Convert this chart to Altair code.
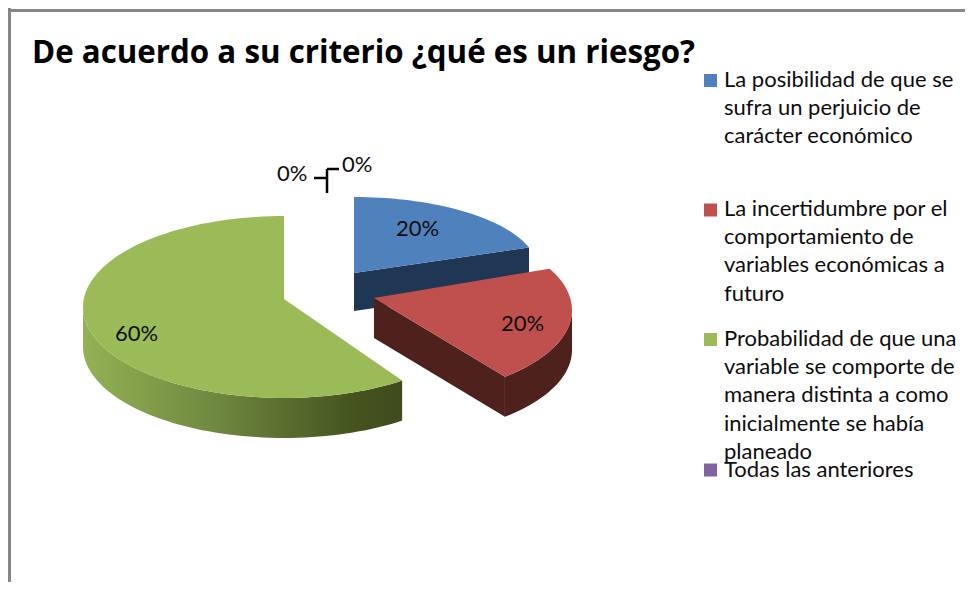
import math
import altair as alt
import pandas as pd

# ---- values
TITLE = "De acuerdo a su criterio ¿qué es un riesgo?"
CATEGORIES = [
    "La posibilidad de que se\nsufra un perjuicio de\ncarácter económico",
    "La incertidumbre por el\ncomportamiento de\nvariables económicas a\nfuturo",
    "Probabilidad de que una\nvariable se comporte de\nmanera distinta a como\ninicialmente se había\nplaneado",
    "Todas las anteriores",
]
SHARES = [20, 20, 60, 0, 0]

# ---- layout and style (separate from the values)
W, H = 957, 574
M = 8
FONT = "Lato"
TITLE_FONT = "Open Sans"
COLORS = ["#4f81bd", "#c0504d", "#9bbb59", "#8064a2"]
SIDE_BLUE = "#1f3654"
SIDE_RED = "#4f211d"
GRID = "#868686"
STEP = 2.0
# apex, ellipse centre, radii, depth and angular perspective correction of each exploded slice
GEOM = [
    dict(apex=(354, 273), c=(354, 270), r=(184, 73), d=38, skew=(0, 0)),
    dict(apex=(374, 298), c=(380, 310), r=(192, 88), d=40, skew=(-10, -4.6)),
    dict(apex=(284, 299), c=(284, 307), r=(201, 91), d=40, skew=(0, 0)),
]
LABEL_POS = [(396, 236), (501, 331), (115, 341), (277, 181), (342, 172)]
LEGEND_TEXT_X = 724
LEGEND_BASE = [87, 216, 346, 477]
SWATCH_Y = [80.5, 210, 339.5, 470]


def cum_angles():
    out, total = [], 0
    for s in SHARES:
        out.append((total * 3.6, (total + s) * 3.6))
        total += s
    return out


def pt(g, deg, drop=0):
    a = math.radians(deg)
    return (g["c"][0] + g["r"][0] * math.sin(a) - M,
            g["c"][1] - g["r"][1] * math.cos(a) + drop - M)


def arc(g, a0, a1, drop=0):
    n = max(2, int(abs(a1 - a0) / STEP))
    return [pt(g, a0 + (a1 - a0) * i / n, drop) for i in range(n + 1)]


def shifted(p, drop=0):
    return (p[0] - M, p[1] - M + drop)


def face(points, fill):
    ring = [list(p) for p in points] + [list(points[0])]
    feat = {"type": "Feature", "properties": {},
            "geometry": {"type": "Polygon", "coordinates": [ring]}}
    return alt.Chart(alt.Data(values=[feat])).mark_geoshape(
        fill=fill, strokeWidth=0, opacity=1, fillOpacity=1).project(
        type="identity", scale=1, translate=[0, 0])


BLANK = alt.Data(values=[{"k": 0}])


def text(s, x, y, size, weight="normal", color="#0d0d0d", font=FONT):
    return alt.Chart(BLANK).mark_text(
        text=s, font=font, fontSize=size, fontWeight=weight, color=color,
        align="left", baseline="alphabetic").encode(
        x=alt.value(x - M), y=alt.value(y - M))


def rule(x0, y0, x1, y1, color, w):
    return alt.Chart(BLANK).mark_rule(color=color, strokeWidth=w).encode(
        x=alt.value(x0 - M), y=alt.value(y0 - M), x2=alt.value(x1 - M), y2=alt.value(y1 - M))


ang = cum_angles()
layers = []

# green slice
g = GEOM[2]
a0, a1 = ang[2]
green_side = arc(g, a0, 270) + arc(g, 270, a0, g["d"])
green_grad = alt.LinearGradient(
    gradient="linear", x1=0, x2=1, y1=0, y2=0,
    stops=[alt.GradientStop(offset=0, color="#93b254"),
           alt.GradientStop(offset=0.4, color="#708a40"),
           alt.GradientStop(offset=0.85, color="#45531f"),
           alt.GradientStop(offset=1, color="#3f4c1e")])
layers.append(face(green_side, green_grad))
layers.append(face([shifted(g["apex"])] + arc(g, a0, a1), COLORS[2]))

# blue slice
g = GEOM[0]
a0, a1 = ang[0]
corner = pt(g, a1)
blue_side = [shifted(g["apex"]), corner, (corner[0], corner[1] + g["d"]),
             shifted(g["apex"], g["d"])]
layers.append(face(blue_side, SIDE_BLUE))
layers.append(face([shifted(g["apex"])] + arc(g, a0, a1), COLORS[0]))

# red slice
g = GEOM[1]
a0, a1 = ang[1]
a0 += g["skew"][0]
a1 += g["skew"][1]
red_cut = [shifted(g["apex"]), pt(g, a1), pt(g, a1, g["d"]), shifted(g["apex"], g["d"])]
layers.append(face(arc(g, 90, a1) + arc(g, a1, 90, g["d"]), SIDE_RED))
layers.append(face(red_cut, SIDE_RED))
layers.append(face([shifted(g["apex"])] + arc(g, a0, a1), COLORS[1]))

# chart frame
layers.append(rule(9.5, 8, 9.5, H + M, GRID, 3))
layers.append(rule(8, 10.5, W + M, 10.5, GRID, 3))

# title
layers.append(text(TITLE, 32, 63, 31.3, "bold", "#000000", TITLE_FONT))

# data labels
for s, (x, y) in zip(SHARES, LABEL_POS):
    layers.append(text(f"{s}%", x, y, 22))

# leader lines of the two empty slices
layers.append(rule(314, 178, 327, 178, "#000000", 2.5))
layers.append(rule(327, 169, 327, 193, "#000000", 2.5))
layers.append(rule(327, 169, 339, 169, "#000000", 2.5))

# legend
legend = pd.DataFrame({
    "label": CATEGORIES,
    "tx": [LEGEND_TEXT_X - M] * 4,
    "ty": [y - M for y in LEGEND_BASE],
    "sx": [710.5 - M] * 4,
    "sy": [y - M for y in SWATCH_Y],
})
layers.append(alt.Chart(legend).mark_square(size=169, opacity=1).encode(
    x=alt.X("sx:Q", scale=None, axis=None),
    y=alt.Y("sy:Q", scale=None, axis=None),
    color=alt.Color("label:N", scale=alt.Scale(domain=CATEGORIES, range=COLORS), legend=None),
))
layers.append(alt.Chart(legend).mark_text(
    font=FONT, fontSize=22, color="#0d0d0d", align="left", baseline="alphabetic",
    lineBreak="\n", lineHeight=28.2).encode(
    x=alt.X("tx:Q", scale=None, axis=None),
    y=alt.Y("ty:Q", scale=None, axis=None),
    text="label:N",
))

chart = alt.layer(*layers).properties(
    width=W, height=H, padding=0, background="#ffffff",
    autosize=alt.AutoSizeParams(type="none"),
).configure_view(stroke=None)

chart.save("out.html", embed_options={"renderer": "svg", "actions": False})
